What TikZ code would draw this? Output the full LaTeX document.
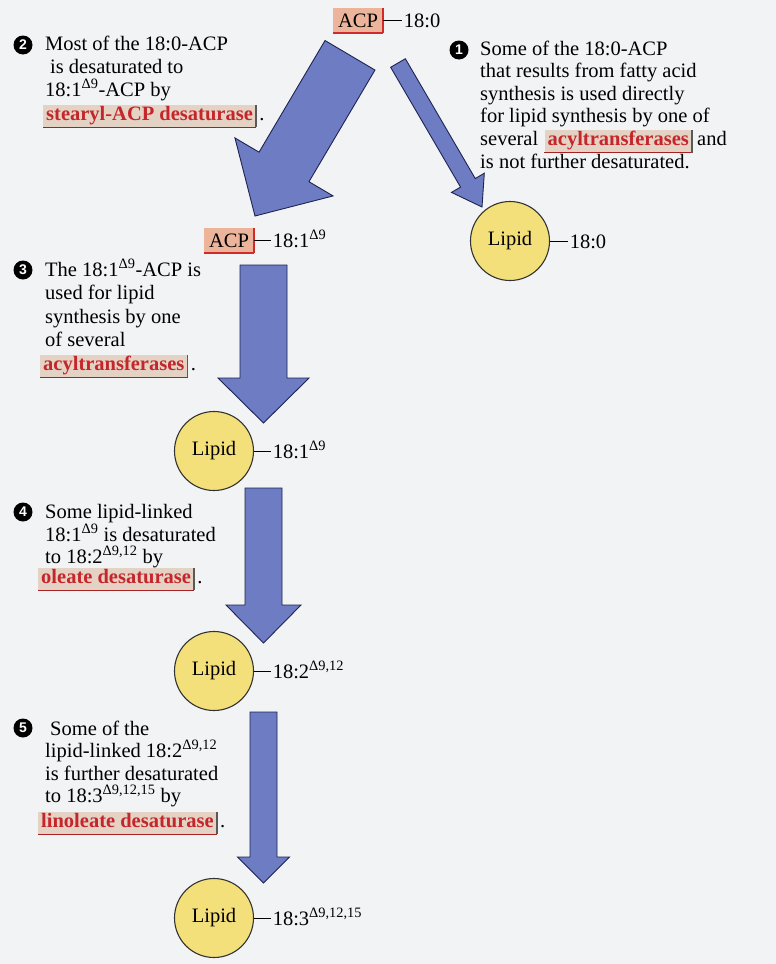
\documentclass[tikz,border=0pt]{standalone}
\usepackage{fontspec}
\setmainfont{Liberation Serif}
\newfontfamily\bulletfont{Liberation Sans}
\usetikzlibrary{calc}
\definecolor{bgcol}{HTML}{F1F3F5}
\definecolor{arrowfill}{HTML}{6E7DC3}
\definecolor{arrowdraw}{HTML}{1E2350}
\definecolor{lipidfill}{HTML}{F4E07A}
\definecolor{acpfill}{HTML}{EBB49B}
\definecolor{boxred}{HTML}{D02A2A}
\definecolor{enzfill}{HTML}{E4D3C5}
\definecolor{enztext}{HTML}{C4262B}
\newcommand{\blockarrow}[5]{%
  \coordinate (ba-h) at ($(#2)!#5!(#1)$);
  \filldraw[blockarr] ($(#1)!#3!90:(#2)$) -- ($(ba-h)!#3!90:(#2)$) -- ($(ba-h)!#4!90:(#2)$)
    -- (#2) -- ($(ba-h)!#4!-90:(#2)$) -- ($(ba-h)!#3!-90:(#2)$) -- ($(#1)!#3!-90:(#2)$) -- cycle;
}
\begin{document}
\begin{tikzpicture}[x=1pt,y=-1pt,
  font=\fontsize{20.5}{23.5}\selectfont,
  txt/.style={anchor=base west, inner sep=0pt},
  val/.style={anchor=base west, inner xsep=1.5pt, inner ysep=0pt},
  blockarr/.style={fill=arrowfill, draw=arrowdraw, line width=0.9pt, line join=miter},
  bullet/.style={circle, fill=black, text=white, minimum size=19pt, inner sep=0pt,
    font=\bulletfont\bfseries\fontsize{14}{14}\selectfont},
  acp/.style={rectangle, fill=acpfill, minimum width=50pt, minimum height=25pt, inner sep=0pt,
    append after command={
      (\tikzlastnode.south west) edge[draw=boxred, line width=1.6pt] (\tikzlastnode.south east)
      (\tikzlastnode.south east) edge[draw=boxred, line width=1.6pt] (\tikzlastnode.north east)}},
  enz/.style={rectangle, fill=enzfill, anchor=base west, text=enztext, font=\fontsize{20.5}{23.5}\selectfont\bfseries,
    inner xsep=3pt, inner ysep=2pt, text height=13pt, text depth=5pt,
    append after command={
      (\tikzlastnode.south west) edge[draw=boxred!80!black, line width=1.2pt] (\tikzlastnode.south east)
      (\tikzlastnode.south east) edge[draw=black!65, line width=1.4pt] (\tikzlastnode.north east)}},
  lipid/.style={circle, fill=lipidfill, draw=black!80, line width=1.1pt, minimum size=79pt, inner sep=0pt},
  bondline/.style={line width=0.9pt}
]
\fill[bgcol] (0,0) rectangle (776,964);
\useasboundingbox (0,0) rectangle (776,964);

% ---- arrows ----
\coordinate (s1) at (350,55.3);  \coordinate (t1) at (255,216);
\coordinate (s2) at (398,63);    \coordinate (t2) at (482,207);
\coordinate (s3) at (263.5,265); \coordinate (t3) at (263.5,423);
\coordinate (s4) at (263.5,488); \coordinate (t4) at (263.5,643);
\coordinate (s5) at (263.5,712); \coordinate (t5) at (263.5,883);
\blockarrow{s1}{t1}{29pt}{57pt}{57pt}
\blockarrow{s2}{t2}{8.5pt}{19pt}{28pt}
\blockarrow{s3}{t3}{23.5pt}{45.5pt}{45pt}
\blockarrow{s4}{t4}{18.5pt}{37.5pt}{38pt}
\blockarrow{s5}{t5}{13.5pt}{26pt}{26pt}

% ---- molecules ----
\node[acp] (acp1) at (358,20.5) {ACP};
\node[val] (v1) at ($(acp1.east)+(19,7)$) {18:0};
\draw[bondline] (acp1.east) -- (acp1.east -| v1.west);

\node[acp] (acp2) at (229,240.5) {ACP};
\node[val] (v2) at ($(acp2.east)+(17,7)$) {18:1\textsuperscript{Δ9}};
\draw[bondline] (acp2.east) -- (acp2.east -| v2.west);

\node[lipid] (lip0) at (510,241) {Lipid};
\node[val] (v3) at ($(lip0.east)+(18,7)$) {18:0};
\draw[bondline] (lip0.east) -- (lip0.east -| v3.west);

\node[lipid] (lip1) at (214,451) {Lipid};
\node[val] (v4) at ($(lip1.east)+(17,7)$) {18:1\textsuperscript{Δ9}};
\draw[bondline] (lip1.east) -- (lip1.east -| v4.west);

\node[lipid] (lip2) at (214,671) {Lipid};
\node[val] (v5) at ($(lip2.east)+(17,7)$) {18:2\textsuperscript{Δ9,12}};
\draw[bondline] (lip2.east) -- (lip2.east -| v5.west);

\node[lipid] (lip3) at (214,918) {Lipid};
\node[val] (v6) at ($(lip3.east)+(17,7)$) {18:3\textsuperscript{Δ9,12,15}};
\draw[bondline] (lip3.east) -- (lip3.east -| v6.west);

% ---- label 2 ----
\node[bullet] (b2) at (23,45) {2};
\node[txt] (l2a) at (45,50) {Most of the 18:0-ACP};
\node[txt] (l2b) at (50,73) {is desaturated to};
\node[txt] (l2c) at (45,96) {18:1\textsuperscript{Δ9}-ACP by};
\node[enz] (e2) at (43,120) {stearyl-ACP desaturase};
\node[txt] (p2) at ($(e2.base east)+(3,0)$) {.};

% ---- label 1 ----
\node[bullet] (b1) at (459,50) {1};
\node[txt] (l1a) at (480,55) {Some of the 18:0-ACP};
\node[txt] (l1b) at (480,77.6) {that results from fatty acid};
\node[txt] (l1c) at (480,100.2) {synthesis is used directly};
\node[txt] (l1d) at (480,122.8) {for lipid synthesis by one of};
\node[txt] (l1e) at (480,145.4) {several};
\node[enz] (e1) at ($(l1e.base east)+(6,0)$) {acyltransferases};
\node[txt] (l1f) at ($(e1.base east)+(5,0)$) {and};
\node[txt] (l1g) at (480,168) {is not further desaturated.};

% ---- label 3 ----
\node[bullet] (b3) at (23,270) {3};
\node[txt] (l3a) at (45,276) {The 18:1\textsuperscript{Δ9}-ACP is};
\node[txt] (l3b) at (45,299.5) {used for lipid};
\node[txt] (l3c) at (45,323) {synthesis by one};
\node[txt] (l3d) at (45,346.5) {of several};
\node[enz] (e3) at (40,370) {acyltransferases};
\node[txt] (p3) at ($(e3.base east)+(3,0)$) {.};

% ---- label 4 ----
\node[bullet] (b4) at (23,512) {4};
\node[txt] (l4a) at (45,518) {Some lipid-linked};
\node[txt] (l4b) at (45,541) {18:1\textsuperscript{Δ9} is desaturated};
\node[txt] (l4c) at (45,563) {to 18:2\textsuperscript{Δ9,12} by};
\node[enz] (e4) at (38,583) {oleate desaturase};
\node[txt] (p4) at ($(e4.base east)+(3,0)$) {.};

% ---- label 5 ----
\node[bullet] (b5) at (23,728) {5};
\node[txt] (l5a) at (50,735) {Some of the};
\node[txt] (l5b) at (45,757.5) {lipid-linked 18:2\textsuperscript{Δ9,12}};
\node[txt] (l5c) at (45,780) {is further desaturated};
\node[txt] (l5d) at (45,802.5) {to 18:3\textsuperscript{Δ9,12,15} by};
\node[enz] (e5) at (38,827) {linoleate desaturase};
\node[txt] (p5) at ($(e5.base east)+(3,0)$) {.};
\end{tikzpicture}
\end{document}
